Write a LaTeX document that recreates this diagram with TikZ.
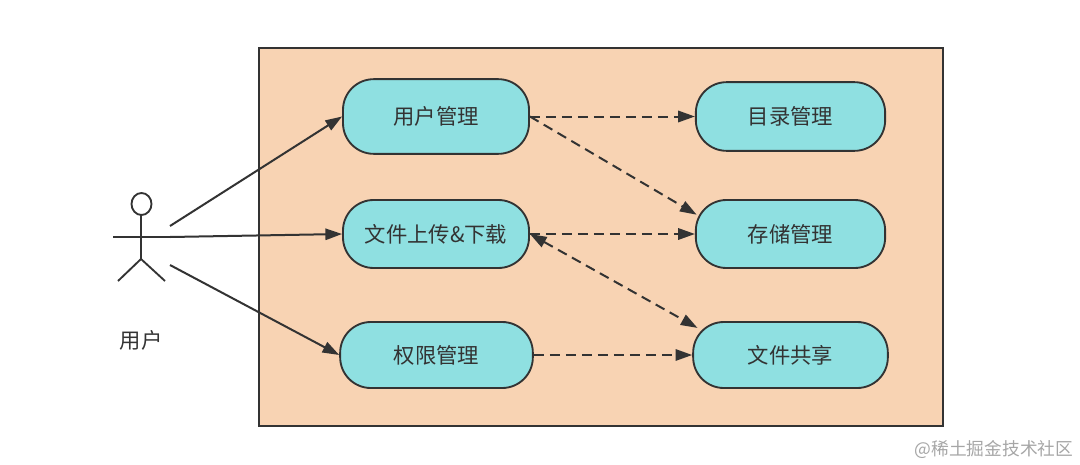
\documentclass[tikz,border=0pt]{standalone}
\usepackage{fontspec}
\setmainfont{Noto Sans CJK SC}
\usetikzlibrary{arrows.meta}
\definecolor{panelfill}{HTML}{F8D3B3}
\definecolor{boxfill}{HTML}{8FE0E1}
\definecolor{inkdark}{HTML}{333333}
\tikzset{
	panelbox/.style={draw=inkdark,fill=panelfill,line width=1.6pt,inner sep=0pt,minimum width=513pt,minimum height=283.5pt},
	usecase/.style={draw=inkdark,fill=boxfill,line width=1.4pt,rounded corners=23pt,inner sep=0pt,text=inkdark,font=\fontsize{16}{18}\selectfont},
	solidarrow/.style={color=inkdark,line width=1.5pt,-{Triangle[length=12.5pt,width=8.5pt]}},
	dasharrow/.style={color=inkdark,line width=1.5pt,dash pattern=on 7.5pt off 4.5pt,-{Triangle[length=12.5pt,width=8.5pt]}},
}
\begin{document}
\begin{tikzpicture}[x=0.75pt,y=-0.75pt]
		\useasboundingbox (0,0) rectangle (1080,464);
		\node[panelbox] (panel) at (601,237) {};
		% use cases
		\node[usecase,minimum width=139.5pt,minimum height=56pt] (usermgmt) at (436,116.5) {用户管理};
		\node[usecase,minimum width=139.5pt,minimum height=51pt] (transfer) at (436,234) {文件上传\&下载};
		\node[usecase,minimum width=144.5pt,minimum height=49.5pt] (access) at (436.5,355) {权限管理};
		\node[usecase,minimum width=142pt,minimum height=51.5pt] (dirmgmt) at (790.5,116.5) {目录管理};
		\node[usecase,minimum width=142pt,minimum height=51pt] (storage) at (790.5,234) {存储管理};
		\node[usecase,minimum width=146pt,minimum height=49.5pt] (sharing) at (790.5,355) {文件共享};
		% actor
		\draw[color=inkdark,line width=1.4pt] (141.5,204) ellipse[x radius=10,y radius=11];
		\draw[color=inkdark,line width=1.4pt] (141,215) -- (141,259);
		\draw[color=inkdark,line width=1.6pt] (113,237) -- (170,237);
		\draw[color=inkdark,line width=1.4pt] (118,281) -- (141,259) -- (165,281);
		\node[text=inkdark,font=\fontsize{16}{18}\selectfont] (userlabel) at (141,340) {用户};
		\coordinate (handtop) at (170,226);
		\coordinate (handmid) at (170,237);
		\coordinate (handlow) at (170,265);
		% connectors
		\draw[solidarrow] (handtop) -- (usermgmt.west);
		\draw[solidarrow] (handmid) -- (transfer.west);
		\draw[solidarrow] (handlow) -- (access.west);
		\draw[dasharrow] (usermgmt.east) -- (dirmgmt.west);
		\draw[dasharrow,shorten >=-1.5pt] (usermgmt.east) -- (storage.168);
		\draw[dasharrow] (transfer.east) -- (storage.west);
		\draw[dasharrow,{Triangle[length=12.5pt,width=8.5pt]}-{Triangle[length=12.5pt,width=8.5pt]},shorten >=-4.5pt] (transfer.east) -- (sharing.163);
		\draw[dasharrow] (access.east) -- (sharing.west);
		% watermark
		\node[text=black!35,font=\fontsize{13.3}{16}\selectfont,inner sep=0pt] (watermark) at (994,449) {@稀土掘金技术社区};
	\end{tikzpicture}
\end{document}
